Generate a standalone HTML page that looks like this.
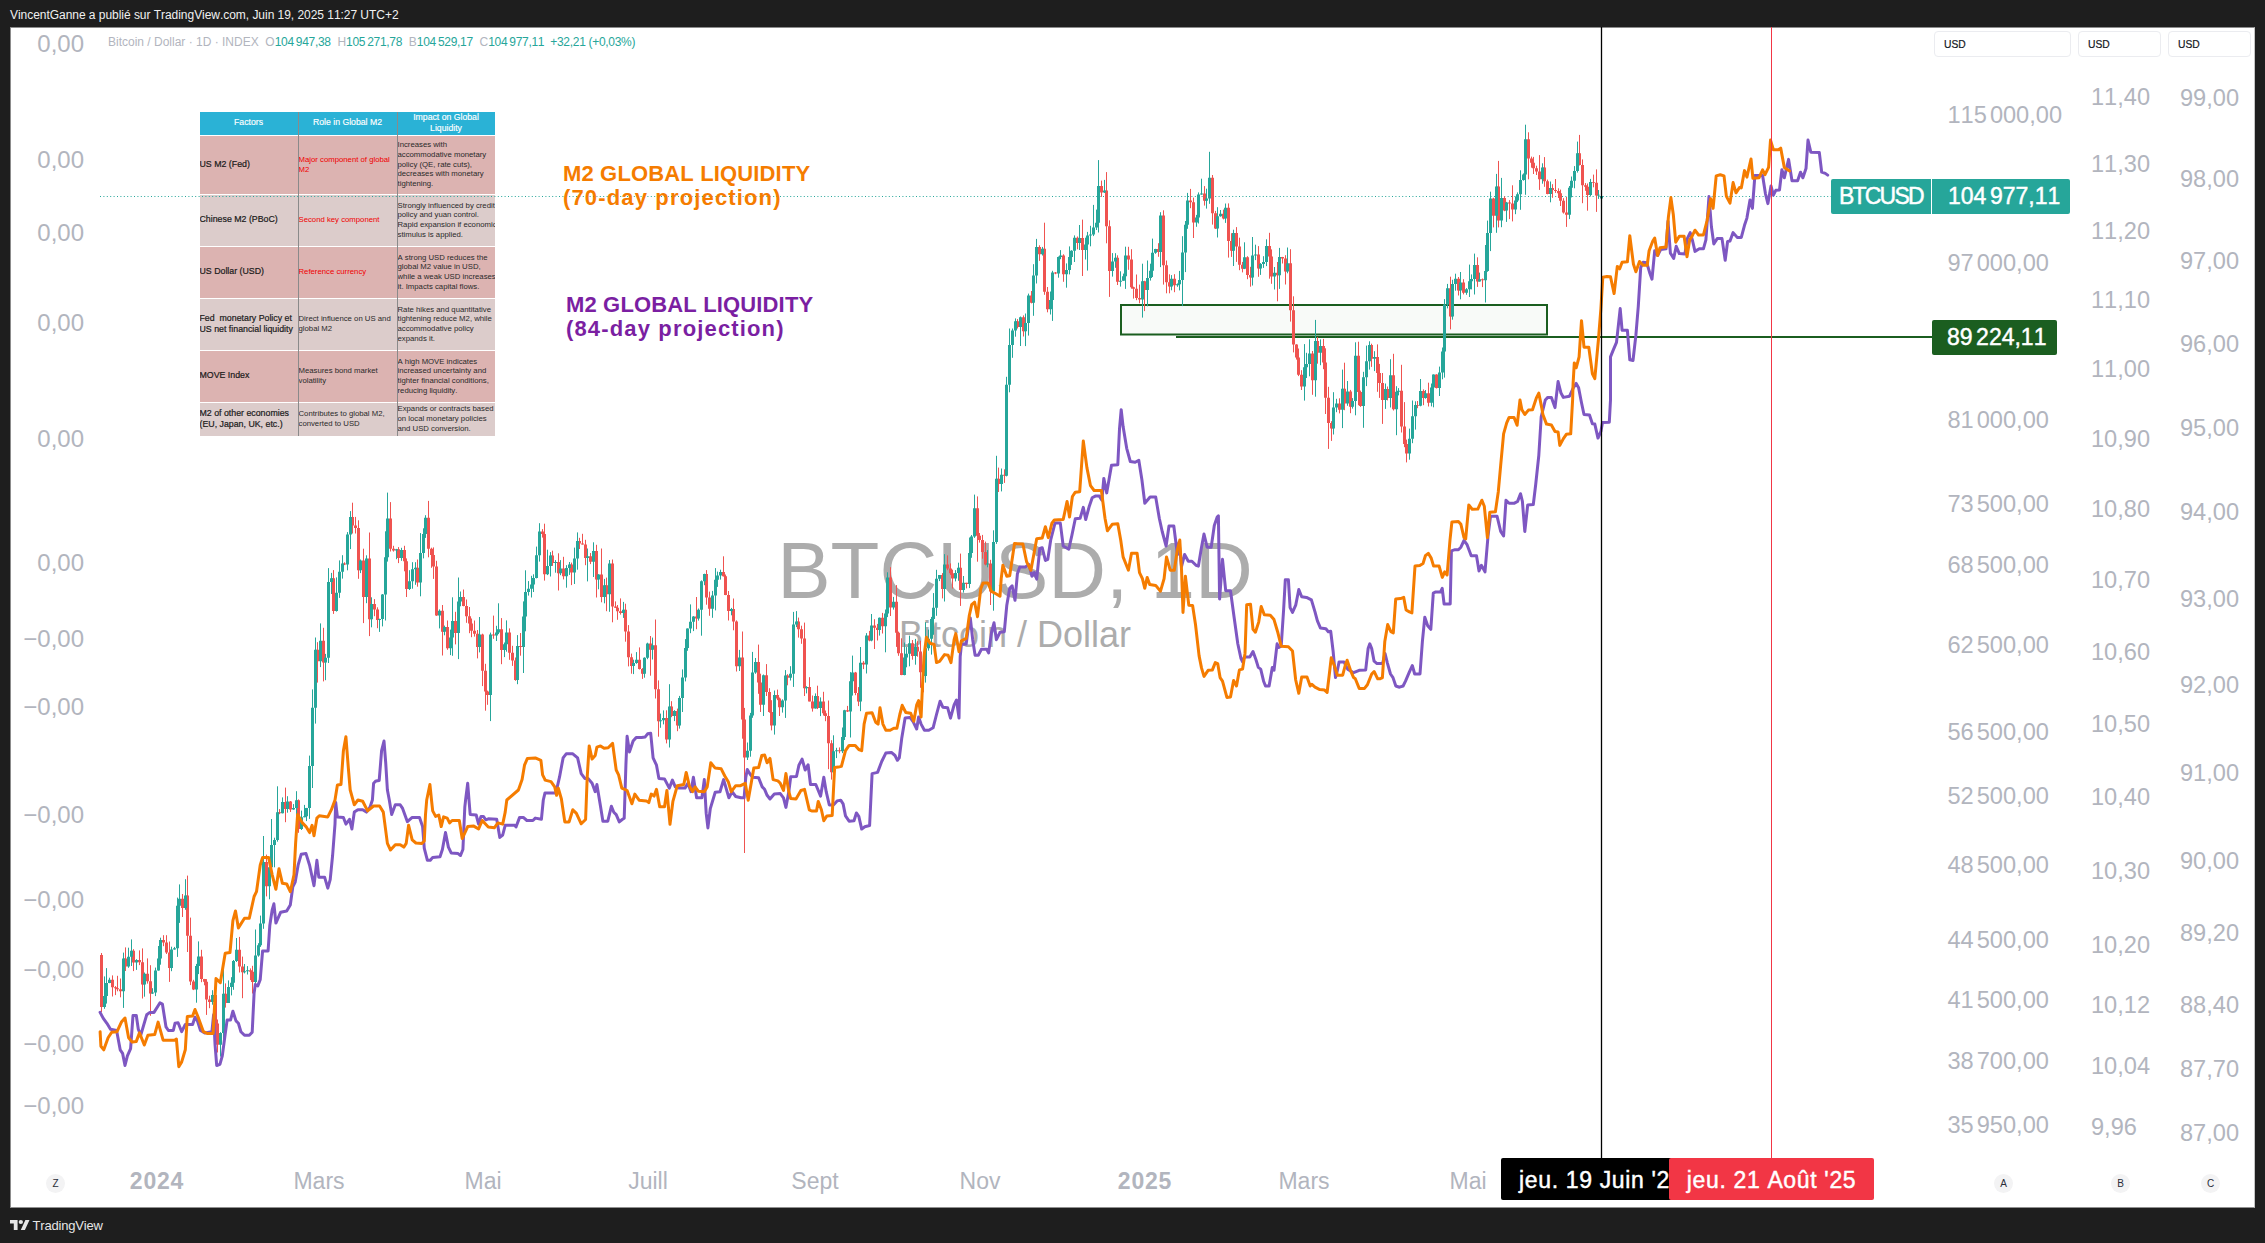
<!DOCTYPE html>
<html lang="fr"><head><meta charset="utf-8"><title>BTCUSD</title>
<style>
html,body{margin:0;padding:0;background:#1e1e1e;}
body{font-kerning:none;width:2265px;height:1243px;position:relative;overflow:hidden;font-family:"Liberation Sans",Arial,sans-serif;}
.abs{position:absolute;white-space:nowrap;}
#hdr{left:10px;top:7px;font-size:12px;line-height:16px;color:#f0f0f0;letter-spacing:-0.04px;}
#panel{left:10px;top:27px;width:2245px;height:1181px;background:#fff;box-sizing:border-box;border-left:1px solid #8c8c8c;border-top:1px solid #8c8c8c;border-right:1px solid #c4c4c4;border-bottom:1px solid #909090;}
#foot{left:32.6px;top:1218px;font-size:13px;line-height:16px;color:#e6e6e6;letter-spacing:-0.2px;}
.ax{font-size:23.6px;line-height:26px;color:#b2b5be;height:26px;margin-top:1px;}
.ax i{font-style:normal;display:inline-block;width:3px;}
.la{left:0;width:84px;text-align:right;margin-top:0.7px;font-size:24px;}
.tm{font-size:23px;line-height:26px;color:#b2b5be;top:1168px;transform:translateX(-50%);}
.tm b{font-weight:700;letter-spacing:0.8px;}
.usd{top:31px;height:24px;border:1px solid #ebecf0;border-radius:4px;box-sizing:content-box;font-size:10.3px;line-height:26.5px;-webkit-text-stroke:0.2px #131722;color:#131722;text-indent:9px;}
.circ{width:19px;height:19px;border-radius:50%;background:#f3f3f4;font-size:10px;line-height:19px;text-align:center;color:#2a2e39;top:1174px;}
#leg{left:108px;top:35px;font-size:12px;line-height:15px;color:#b2b5be;}
#leg span{color:#26a69a;letter-spacing:-0.3px;}
#leg i{font-style:normal;display:inline-block;width:2px;}
#wm1{left:0;width:2030px;top:525px;text-align:center;font-size:80px;line-height:92px;color:#acacac;}
#wm2{left:0;width:2030px;top:613.5px;text-align:center;font-size:36px;line-height:42px;color:#acacac;}
.ttl{font-weight:700;font-size:22px;line-height:24px;white-space:nowrap;}
.lab{color:#fff;-webkit-text-stroke:0.45px #fff;font-size:23px;line-height:34px;height:34.5px;}
.lab i{font-style:normal;display:inline-block;width:3.5px;}
/* table */
#tbl{left:199.5px;top:111.5px;width:295px;height:324px;font-size:7.75px;line-height:9.75px;color:#2a2a2a;}
#tbl div{position:absolute;box-sizing:border-box;overflow:hidden;white-space:nowrap;display:flex;flex-direction:column;justify-content:center;}
#tbl .h{background:#2ab2d6;color:#fff;font-size:8.7px;line-height:11.3px;-webkit-text-stroke:0.15px #fff;text-align:center;font-weight:400;}
#tbl .a{background:#dcb3b1;}
#tbl .b{background:#dccccb;}
#tbl .f{font-size:8.8px;line-height:11.5px;color:#1a1a1a;font-weight:400;-webkit-text-stroke:0.2px #1a1a1a;}
#tbl .r{color:#f00000;}
</style></head><body>
<div class="abs" id="hdr">VincentGanne a publié sur TradingView.com, Juin 19, 2025 11:27 UTC+2</div>
<div class="abs" id="panel"></div>

<div class="abs" id="wm1">BTCUSD, 1D</div>
<div class="abs" id="wm2">Bitcoin / Dollar</div>

<!-- factor table -->
<div class="abs" id="tbl">
<div class="h" style="left:0;top:0;width:98px;height:23px">Factors</div>
<div class="h" style="left:99px;top:0;width:98px;height:23px">Role in Global M2</div>
<div class="h" style="left:198px;top:0;width:97px;height:23px">Impact on Global<br>Liquidity</div>

<div class="a f" style="left:0;top:24px;width:98px;height:58px">US M2 (Fed)</div>
<div class="a r" style="left:99px;top:24px;width:98px;height:58px">Major component of global<br>M2</div>
<div class="a" style="left:198px;top:24px;width:97px;height:58px">Increases with<br>accommodative monetary<br>policy (QE, rate cuts),<br>decreases with monetary<br>tightening.</div>

<div class="b f" style="left:0;top:83px;width:98px;height:51px">Chinese M2 (PBoC)</div>
<div class="b r" style="left:99px;top:83px;width:98px;height:51px">Second key component</div>
<div class="b" style="left:198px;top:83px;width:97px;height:51px">Strongly influenced by credit<br>policy and yuan control.<br>Rapid expansion if economic<br>stimulus is applied.</div>

<div class="a f" style="left:0;top:135px;width:98px;height:51px">US Dollar (USD)</div>
<div class="a r" style="left:99px;top:135px;width:98px;height:51px">Reference currency</div>
<div class="a" style="left:198px;top:135px;width:97px;height:51px">A strong USD reduces the<br>global M2 value in USD,<br>while a weak USD increases<br>it. Impacts capital flows.</div>

<div class="b f" style="left:0;top:187px;width:98px;height:51px">Fed&nbsp; monetary Policy et<br>US net financial liquidity</div>
<div class="b" style="left:99px;top:187px;width:98px;height:51px">Direct influence on US and<br>global M2</div>
<div class="b" style="left:198px;top:187px;width:97px;height:51px">Rate hikes and quantitative<br>tightening reduce M2, while<br>accommodative policy<br>expands it.</div>

<div class="a f" style="left:0;top:239px;width:98px;height:51px">MOVE Index</div>
<div class="a" style="left:99px;top:239px;width:98px;height:51px">Measures bond market<br>volatility</div>
<div class="a" style="left:198px;top:239px;width:97px;height:51px">A high MOVE indicates<br>increased uncertainty and<br>tighter financial conditions,<br>reducing liquidity.</div>

<div class="b f" style="left:0;top:291px;width:98px;height:33px">M2 of other economies<br>(EU, Japan, UK, etc.)</div>
<div class="b" style="left:99px;top:291px;width:98px;height:33px">Contributes to global M2,<br>converted to USD</div>
<div class="b" style="left:198px;top:291px;width:97px;height:33px">Expands or contracts based<br>on local monetary policies<br>and USD conversion.</div>
<div style="left:98.4px;top:0;width:1px;height:324px;background:#8a8a8a"></div>
<div style="left:197.4px;top:0;width:1px;height:324px;background:#8a8a8a"></div>
</div>

<svg class="abs" style="left:0;top:0" width="2265" height="1243" viewBox="0 0 2265 1243">
<line x1="100" y1="196.5" x2="1831" y2="196.5" stroke="#26a69a" stroke-width="1" stroke-dasharray="1 2.4"/>
<rect x="1121" y="305" width="426" height="29.5" fill="#1b5e20" fill-opacity="0.03" stroke="#1b5e20" stroke-width="2"/>
<line x1="1176" y1="337" x2="1932" y2="337" stroke="#1b5e20" stroke-width="2"/>
<path d="M101.5 953.0V1012.0M112.5 975.4V996.5M115.5 986.1V995.1M117.5 975.8V991.3M120.5 978.5V997.3M125.5 947.4V971.0M133.5 949.2V971.1M139.5 950.4V965.1M142.5 948.4V998.5M147.5 958.4V983.6M150.5 965.2V1015.8M163.5 935.2V946.2M166.5 935.2V954.0M169.5 941.5V981.9M182.5 894.0V917.0M187.5 875.6V952.0M190.5 917.6V985.1M193.5 979.8V990.1M201.5 949.8V982.2M204.5 978.9V985.3M206.5 979.1V1014.9M209.5 995.7V1008.2M215.5 984.8V1045.1M217.5 1019.5V1052.5M225.5 983.4V1007.6M239.5 936.9V972.5M242.5 956.6V998.2M250.5 968.4V980.1M252.5 965.8V993.5M266.5 854.6V896.4M279.5 809.1V814.2M285.5 787.6V822.2M290.5 801.0V812.0M298.5 799.4V832.8M317.5 642.2V682.6M323.5 627.8V681.4M333.5 570.1V613.9M344.5 562.3V565.1M352.5 502.7V533.5M355.5 516.9V533.5M358.5 520.3V578.8M363.5 548.7V623.1M369.5 532.5V636.1M374.5 599.1V616.2M377.5 607.3V628.2M390.5 502.1V551.5M393.5 545.8V551.6M398.5 547.1V563.1M404.5 545.8V571.3M406.5 558.4V597.0M417.5 559.5V586.7M428.5 500.9V557.3M431.5 547.7V567.8M433.5 547.4V578.9M436.5 560.8V615.9M442.5 605.0V655.5M447.5 620.5V649.8M455.5 611.8V644.4M463.5 589.5V606.3M466.5 599.5V622.8M469.5 607.0V633.2M471.5 618.5V637.2M474.5 620.5V636.6M477.5 630.0V658.4M482.5 633.7V686.1M485.5 663.8V710.7M487.5 690.6V704.8M493.5 615.6V638.8M501.5 618.1V664.2M509.5 628.4V659.8M512.5 645.8V665.9M515.5 657.5V680.8M520.5 633.0V655.7M542.5 529.1V537.6M544.5 523.7V580.6M552.5 550.7V565.9M558.5 553.3V590.5M563.5 556.8V579.4M571.5 562.6V585.1M579.5 537.8V549.0M582.5 533.8V544.6M585.5 539.8V565.2M590.5 553.0V564.1M596.5 544.8V597.5M601.5 548.5V602.3M606.5 577.6V611.2M612.5 559.5V622.3M615.5 601.4V607.8M617.5 605.0V619.8M620.5 598.4V614.6M625.5 603.7V641.7M628.5 625.1V666.4M631.5 653.6V673.7M639.5 647.4V669.5M642.5 668.1V678.9M650.5 636.0V675.7M655.5 619.5V698.5M658.5 680.4V736.7M666.5 710.3V743.4M671.5 701.2V717.2M677.5 708.6V731.2M696.5 597.0V629.2M706.5 570.1V604.7M709.5 591.6V615.8M723.5 556.3V576.5M725.5 574.5V595.2M728.5 591.0V620.5M733.5 598.5V630.3M736.5 620.4V671.5M742.5 631.5V738.7M744.5 707.9V853.0M758.5 644.6V693.8M760.5 673.7V712.0M766.5 664.1V696.0M769.5 688.2V712.7M771.5 700.2V730.4M777.5 689.6V700.2M779.5 697.5V716.0M787.5 674.2V685.3M798.5 617.6V637.6M801.5 625.7V643.8M804.5 622.6V696.0M809.5 677.2V701.4M812.5 695.5V711.6M817.5 685.7V709.1M823.5 691.8V715.5M825.5 710.5V721.2M828.5 700.5V769.2M831.5 740.2V779.6M839.5 747.4V753.3M847.5 705.9V712.0M855.5 671.9V695.2M858.5 687.1V706.1M863.5 661.1V669.1M869.5 630.9V641.3M874.5 619.2V649.0M877.5 623.9V640.5M882.5 612.9V633.5M890.5 567.2V616.0M896.5 585.1V646.9M898.5 631.6V655.8M901.5 638.3V675.2M912.5 640.0V659.7M917.5 641.2V656.7M920.5 640.7V687.8M923.5 665.9V692.3M942.5 573.1V598.4M947.5 555.4V570.2M950.5 563.4V574.9M952.5 569.7V588.5M960.5 553.6V605.9M966.5 582.8V588.4M977.5 496.4V561.7M979.5 533.0V542.6M982.5 534.9V558.7M985.5 541.6V565.3M990.5 559.8V605.0M998.5 467.6V492.0M1004.5 469.3V482.9M1017.5 319.1V328.5M1023.5 315.4V336.5M1031.5 291.0V303.4M1039.5 245.3V260.9M1044.5 222.7V294.8M1047.5 287.0V312.3M1055.5 272.0V274.2M1063.5 254.3V281.8M1077.5 236.5V249.3M1082.5 219.6V276.0M1101.5 180.6V196.9M1106.5 172.1V243.3M1109.5 220.3V296.9M1117.5 255.3V285.0M1128.5 246.8V269.8M1131.5 249.2V288.7M1133.5 286.7V298.6M1136.5 274.5V300.2M1139.5 284.6V303.3M1144.5 280.8V311.1M1158.5 243.2V256.8M1163.5 210.3V284.6M1166.5 260.5V293.3M1169.5 274.3V293.3M1174.5 274.2V292.2M1190.5 188.9V208.2M1193.5 197.6V238.0M1204.5 186.1V205.6M1212.5 175.0V224.6M1215.5 210.9V229.0M1223.5 209.6V219.4M1228.5 203.4V257.6M1231.5 233.2V256.9M1236.5 227.1V261.9M1239.5 237.7V270.2M1242.5 261.9V272.4M1247.5 256.2V279.2M1250.5 266.8V286.7M1258.5 246.1V276.8M1269.5 232.8V278.7M1271.5 249.4V283.8M1277.5 262.0V301.3M1282.5 256.9V263.5M1285.5 255.2V284.5M1290.5 249.2V321.6M1293.5 296.3V352.4M1296.5 344.2V359.6M1298.5 348.5V376.1M1301.5 370.2V390.0M1312.5 351.0V394.8M1317.5 337.1V363.7M1323.5 338.9V369.2M1325.5 348.3V414.0M1328.5 386.8V448.9M1331.5 421.2V440.9M1339.5 398.3V413.4M1344.5 362.7V410.2M1350.5 389.9V413.2M1358.5 341.7V405.2M1360.5 390.6V406.9M1371.5 343.7V366.9M1377.5 344.4V391.8M1379.5 363.9V397.9M1382.5 373.0V423.9M1387.5 386.5V400.4M1393.5 353.8V410.5M1401.5 364.8V432.5M1404.5 402.1V447.2M1406.5 439.6V462.4M1417.5 401.0V408.2M1423.5 389.4V405.2M1428.5 382.7V406.5M1436.5 374.2V388.5M1450.5 276.7V329.4M1458.5 277.0V295.5M1463.5 279.2V294.4M1477.5 257.3V286.9M1482.5 278.5V287.1M1493.5 197.8V227.4M1498.5 160.9V227.4M1504.5 196.3V211.2M1509.5 200.1V219.1M1512.5 185.3V221.4M1528.5 132.3V179.3M1531.5 156.6V167.7M1533.5 156.9V174.0M1536.5 165.7V175.0M1539.5 155.1V189.9M1544.5 157.1V186.8M1547.5 179.6V194.3M1552.5 184.2V197.8M1555.5 179.0V192.9M1558.5 188.3V198.0M1560.5 189.6V206.0M1563.5 198.2V213.6M1566.5 197.0V226.9M1579.5 134.9V165.5M1582.5 159.4V203.2M1585.5 183.1V190.8M1587.5 183.5V210.7M1593.5 174.6V187.3M1596.5 169.4V211.9" fill="none" stroke="#ef5350" stroke-width="1"/>
<path d="M104.5 976.4V1008.8M106.5 968.1V1003.6M109.5 977.7V983.2M123.5 952.6V1007.9M128.5 947.7V967.8M131.5 939.4V966.0M136.5 959.2V969.9M144.5 972.5V996.7M152.5 988.2V993.9M155.5 967.6V996.1M158.5 946.0V970.7M160.5 937.7V964.7M171.5 946.7V971.2M174.5 946.9V949.6M177.5 897.6V956.9M179.5 884.4V922.9M185.5 879.2V909.8M196.5 963.9V1002.7M198.5 941.4V974.1M212.5 990.2V1004.7M220.5 1032.2V1056.6M223.5 967.7V1043.4M228.5 980.4V1003.0M231.5 977.2V995.4M233.5 960.0V989.8M236.5 938.0V962.0M244.5 964.0V973.4M247.5 966.1V974.5M255.5 929.5V990.9M258.5 943.2V956.7M260.5 915.6V946.9M263.5 836.0V928.8M269.5 862.8V899.3M271.5 819.0V869.8M274.5 837.7V867.3M277.5 786.3V841.7M282.5 797.4V813.4M287.5 796.2V812.7M293.5 804.1V809.8M296.5 791.2V817.0M301.5 810.6V830.0M304.5 804.9V817.3M306.5 807.9V821.1M309.5 755.6V818.9M312.5 689.4V788.0M315.5 637.5V723.6M320.5 623.4V667.1M325.5 653.9V680.2M328.5 568.1V663.0M331.5 572.9V594.0M336.5 577.4V611.6M339.5 560.4V597.9M342.5 555.2V578.6M347.5 532.1V570.3M350.5 511.1V549.1M360.5 559.5V573.1M366.5 555.3V603.2M371.5 597.3V627.3M379.5 618.7V631.9M382.5 594.0V626.4M385.5 531.3V620.5M387.5 492.6V561.6M396.5 548.9V559.2M401.5 547.8V560.8M409.5 570.2V590.0M412.5 562.2V588.7M415.5 562.2V584.8M420.5 533.1V596.3M423.5 528.3V558.4M425.5 515.2V537.9M439.5 609.4V628.4M444.5 625.6V635.3M450.5 629.6V655.1M452.5 597.3V655.8M458.5 577.5V659.1M460.5 591.5V606.3M479.5 617.0V652.4M490.5 632.6V721.1M496.5 625.8V641.0M498.5 603.3V634.1M504.5 642.5V657.1M506.5 620.4V651.7M517.5 635.1V684.2M523.5 601.4V673.0M525.5 570.3V631.3M528.5 581.1V595.6M531.5 575.8V597.5M533.5 574.3V592.0M536.5 546.6V578.4M539.5 523.2V561.6M547.5 549.7V575.1M550.5 552.1V576.5M555.5 560.1V572.7M560.5 560.1V575.2M566.5 565.2V587.7M569.5 562.0V574.9M574.5 547.6V584.0M577.5 532.4V569.7M587.5 548.5V581.4M593.5 542.3V577.0M598.5 574.2V589.3M604.5 578.9V603.3M609.5 560.0V611.8M623.5 601.9V617.9M633.5 659.7V674.1M636.5 652.1V663.8M644.5 657.3V677.7M647.5 642.7V659.2M652.5 637.6V659.5M660.5 713.6V727.8M663.5 710.4V724.4M669.5 684.2V747.5M674.5 710.1V721.1M679.5 695.9V728.6M682.5 669.4V712.0M685.5 639.1V681.4M687.5 628.4V650.8M690.5 604.4V633.2M693.5 616.1V631.1M698.5 608.5V620.6M701.5 580.4V635.7M704.5 573.7V585.2M712.5 590.9V617.8M715.5 568.1V610.4M717.5 571.6V586.9M720.5 569.7V579.6M731.5 607.9V615.3M739.5 649.9V671.0M747.5 742.5V760.0M750.5 712.9V756.7M752.5 651.9V717.8M755.5 658.0V673.8M763.5 674.5V716.0M774.5 690.5V734.6M782.5 699.3V712.6M785.5 670.1V717.9M790.5 666.2V680.5M793.5 611.9V686.9M796.5 611.1V627.1M806.5 686.2V693.4M815.5 693.4V708.6M820.5 697.4V716.1M833.5 735.3V782.2M836.5 747.8V758.1M842.5 727.5V753.1M844.5 709.8V740.0M850.5 672.1V737.5M852.5 655.6V695.6M860.5 647.0V711.2M866.5 633.1V673.5M871.5 614.0V641.3M879.5 617.5V635.6M885.5 609.5V652.3M887.5 572.3V617.1M893.5 596.9V609.6M904.5 642.6V675.3M906.5 647.1V667.3M909.5 635.6V666.3M915.5 638.9V664.7M925.5 622.2V682.6M928.5 629.6V650.7M931.5 616.9V654.6M933.5 593.1V634.8M936.5 569.8V615.8M939.5 575.0V581.1M944.5 554.1V601.5M955.5 570.1V581.4M958.5 562.7V580.8M963.5 576.0V592.6M969.5 537.5V588.1M971.5 535.0V557.8M974.5 494.6V537.9M987.5 550.1V567.3M993.5 530.3V610.7M996.5 455.8V543.9M1001.5 468.5V491.4M1006.5 376.8V476.4M1009.5 328.5V392.3M1012.5 328.5V357.8M1015.5 318.4V336.7M1020.5 316.5V346.0M1025.5 313.5V346.1M1028.5 293.6V335.6M1033.5 264.2V315.8M1036.5 238.9V283.5M1042.5 246.9V255.5M1050.5 291.5V314.5M1052.5 270.8V320.9M1058.5 256.5V277.7M1060.5 250.1V259.2M1066.5 263.4V287.7M1069.5 246.4V274.4M1071.5 250.2V264.9M1074.5 235.4V262.0M1079.5 225.0V250.0M1085.5 237.7V259.5M1087.5 231.9V270.6M1090.5 225.8V246.3M1093.5 204.9V236.1M1096.5 209.6V230.0M1098.5 160.1V232.5M1104.5 179.9V193.0M1112.5 253.1V276.6M1115.5 253.2V267.8M1120.5 271.3V286.6M1123.5 273.6V280.8M1125.5 246.7V288.9M1142.5 263.7V317.6M1147.5 260.5V306.3M1150.5 263.7V280.6M1152.5 238.6V277.0M1155.5 248.8V253.8M1160.5 212.2V267.1M1171.5 275.1V290.3M1177.5 283.4V286.8M1179.5 270.9V290.4M1182.5 236.2V306.1M1185.5 221.0V272.1M1187.5 192.9V228.8M1196.5 214.9V226.8M1198.5 192.4V223.5M1201.5 178.7V194.8M1206.5 188.7V208.6M1209.5 151.8V203.8M1217.5 207.2V237.5M1220.5 210.0V216.7M1225.5 203.5V222.9M1233.5 229.7V266.0M1244.5 242.3V269.1M1252.5 237.0V285.5M1255.5 244.7V260.1M1260.5 263.1V274.9M1263.5 256.2V267.9M1266.5 239.3V266.1M1274.5 267.0V289.5M1279.5 247.9V288.9M1287.5 247.5V273.3M1304.5 344.1V400.6M1306.5 352.8V378.0M1309.5 339.3V376.3M1315.5 319.9V396.7M1320.5 339.4V365.2M1333.5 392.2V434.5M1336.5 398.8V412.2M1342.5 369.6V428.1M1347.5 381.0V405.8M1352.5 398.1V408.6M1355.5 342.3V415.3M1363.5 371.8V427.8M1366.5 345.6V386.1M1369.5 341.3V369.6M1374.5 351.2V371.1M1385.5 383.5V408.9M1390.5 359.2V407.5M1396.5 386.2V435.2M1398.5 388.1V395.4M1409.5 428.6V459.7M1412.5 400.5V443.2M1415.5 401.3V429.6M1420.5 379.0V406.3M1425.5 390.0V398.7M1431.5 383.5V406.4M1433.5 374.4V407.3M1439.5 366.6V396.0M1442.5 347.5V379.3M1444.5 299.1V377.6M1447.5 283.9V308.4M1452.5 279.8V319.7M1455.5 273.7V290.7M1460.5 272.0V299.3M1466.5 288.1V294.8M1469.5 264.6V297.0M1471.5 274.4V289.4M1474.5 253.6V294.5M1479.5 272.6V281.7M1485.5 245.0V302.5M1487.5 220.6V271.8M1490.5 191.7V251.1M1496.5 173.9V232.8M1501.5 177.9V227.2M1506.5 201.9V221.9M1515.5 196.6V214.2M1517.5 192.4V202.1M1520.5 170.3V209.8M1523.5 173.4V180.7M1525.5 124.7V194.8M1542.5 163.3V183.7M1550.5 181.5V202.3M1569.5 186.0V219.1M1571.5 176.5V197.4M1574.5 166.1V188.3M1577.5 141.6V172.6M1590.5 178.9V196.4M1598.5 190.0V198.9M1601.5 191.0V203.0" fill="none" stroke="#26a69a" stroke-width="1"/>
<path d="M100 955.0h3V1007.0h-3zM111 979.7h3V987.3h-3zM114 987.3h3V988.3h-3zM116 988.3h3V989.3h-3zM119 989.3h3V991.2h-3zM124 958.6h3V966.5h-3zM132 950.8h3V962.4h-3zM138 960.0h3V962.2h-3zM141 962.2h3V984.6h-3zM146 973.8h3V981.2h-3zM149 981.2h3V993.4h-3zM162 939.9h3V942.5h-3zM165 942.5h3V952.6h-3zM168 952.6h3V968.0h-3zM181 898.7h3V908.1h-3zM186 895.5h3V935.8h-3zM189 935.8h3V981.6h-3zM192 981.6h3V989.6h-3zM200 956.6h3V978.9h-3zM203 978.9h3V981.7h-3zM205 981.7h3V999.6h-3zM208 999.6h3V1002.0h-3zM214 994.9h3V1023.5h-3zM216 1023.5h3V1044.8h-3zM224 993.7h3V1002.9h-3zM238 949.8h3V966.6h-3zM241 966.6h3V972.2h-3zM249 970.2h3V971.7h-3zM251 971.7h3V981.9h-3zM265 862.0h3V886.2h-3zM278 812.3h3V813.3h-3zM284 802.1h3V809.0h-3zM289 801.4h3V809.5h-3zM297 800.3h3V829.0h-3zM316 649.7h3V661.3h-3zM322 640.8h3V662.6h-3zM332 578.2h3V610.9h-3zM343 563.6h3V564.6h-3zM351 517.1h3V525.6h-3zM354 525.6h3V528.1h-3zM357 528.1h3V570.3h-3zM362 560.5h3V597.1h-3zM368 558.5h3V619.3h-3zM373 604.0h3V609.6h-3zM376 609.6h3V619.9h-3zM389 518.6h3V548.7h-3zM392 548.7h3V550.6h-3zM397 549.2h3V558.1h-3zM403 550.0h3V561.2h-3zM405 561.2h3V588.9h-3zM416 567.8h3V582.6h-3zM427 517.7h3V548.8h-3zM430 548.8h3V555.1h-3zM432 555.1h3V566.4h-3zM435 566.4h3V615.5h-3zM441 610.8h3V631.7h-3zM446 627.1h3V648.3h-3zM454 621.1h3V633.1h-3zM462 597.0h3V606.1h-3zM465 606.1h3V616.2h-3zM468 616.2h3V623.5h-3zM470 623.5h3V630.7h-3zM473 630.7h3V633.8h-3zM476 633.8h3V646.9h-3zM481 634.5h3V670.7h-3zM484 670.7h3V691.5h-3zM486 691.5h3V695.1h-3zM492 634.4h3V635.4h-3zM500 629.3h3V650.1h-3zM508 632.6h3V652.8h-3zM511 652.8h3V660.6h-3zM514 660.6h3V680.1h-3zM519 646.1h3V647.1h-3zM541 531.5h3V534.0h-3zM543 534.0h3V574.3h-3zM551 555.5h3V563.1h-3zM557 562.1h3V573.2h-3zM562 568.6h3V576.2h-3zM570 564.6h3V572.5h-3zM578 540.9h3V543.6h-3zM581 543.6h3V544.4h-3zM584 544.4h3V558.0h-3zM589 556.2h3V561.7h-3zM595 551.0h3V579.6h-3zM600 574.5h3V597.0h-3zM605 585.2h3V594.3h-3zM611 563.6h3V606.4h-3zM614 606.4h3V607.7h-3zM616 607.7h3V611.2h-3zM619 611.2h3V612.9h-3zM624 609.7h3V631.4h-3zM627 631.4h3V657.2h-3zM630 657.2h3V666.0h-3zM638 659.7h3V669.1h-3zM641 669.1h3V673.8h-3zM649 643.4h3V649.7h-3zM654 645.3h3V689.2h-3zM657 689.2h3V721.2h-3zM665 718.1h3V739.6h-3zM670 706.5h3V716.0h-3zM676 710.9h3V725.6h-3zM695 616.5h3V618.5h-3zM705 573.9h3V597.5h-3zM708 597.5h3V608.7h-3zM722 572.0h3V576.3h-3zM724 576.3h3V595.0h-3zM727 595.0h3V611.1h-3zM732 608.9h3V621.4h-3zM735 621.4h3V666.2h-3zM741 657.5h3V719.5h-3zM743 719.5h3V757.5h-3zM757 662.1h3V682.5h-3zM759 682.5h3V704.7h-3zM765 675.2h3V692.1h-3zM768 692.1h3V711.9h-3zM770 711.9h3V725.5h-3zM776 694.9h3V698.5h-3zM778 698.5h3V707.2h-3zM786 675.6h3V677.7h-3zM797 621.6h3V629.3h-3zM800 629.3h3V638.5h-3zM803 638.5h3V688.3h-3zM808 687.1h3V701.4h-3zM811 701.4h3V708.4h-3zM816 696.1h3V708.0h-3zM822 701.5h3V713.3h-3zM824 713.3h3V716.1h-3zM827 716.1h3V743.2h-3zM830 743.2h3V772.3h-3zM838 750.2h3V751.2h-3zM846 710.3h3V711.5h-3zM854 672.4h3V693.0h-3zM857 693.0h3V701.6h-3zM862 662.8h3V664.6h-3zM868 635.6h3V640.6h-3zM873 625.5h3V627.8h-3zM876 627.8h3V629.9h-3zM881 617.8h3V626.3h-3zM889 577.5h3V607.6h-3zM895 601.7h3V632.8h-3zM897 632.8h3V653.2h-3zM900 653.2h3V675.0h-3zM911 643.2h3V656.1h-3zM916 646.7h3V651.6h-3zM919 651.6h3V672.3h-3zM922 672.3h3V676.0h-3zM941 575.1h3V589.1h-3zM946 564.6h3V568.4h-3zM949 568.4h3V573.3h-3zM951 573.3h3V578.5h-3zM959 567.7h3V590.1h-3zM965 582.8h3V584.0h-3zM976 508.2h3V535.7h-3zM978 535.7h3V540.0h-3zM981 540.0h3V552.1h-3zM984 552.1h3V564.4h-3zM989 563.4h3V591.4h-3zM997 478.7h3V483.9h-3zM1003 474.8h3V475.8h-3zM1016 321.2h3V327.1h-3zM1022 317.2h3V331.3h-3zM1030 295.5h3V302.8h-3zM1038 246.9h3V254.3h-3zM1043 248.7h3V291.8h-3zM1046 291.8h3V309.2h-3zM1054 272.6h3V273.6h-3zM1062 255.6h3V274.3h-3zM1076 237.8h3V243.0h-3zM1081 238.0h3V250.0h-3zM1100 186.1h3V192.6h-3zM1105 190.5h3V226.3h-3zM1108 226.3h3V270.9h-3zM1116 257.8h3V281.7h-3zM1127 255.6h3V259.4h-3zM1130 259.4h3V287.2h-3zM1132 287.2h3V288.8h-3zM1135 288.8h3V298.1h-3zM1138 298.1h3V299.4h-3zM1143 281.2h3V290.1h-3zM1157 248.9h3V252.0h-3zM1162 215.5h3V265.2h-3zM1165 265.2h3V282.2h-3zM1168 282.2h3V286.4h-3zM1173 278.7h3V285.3h-3zM1189 200.4h3V202.3h-3zM1192 202.3h3V222.4h-3zM1203 193.4h3V200.8h-3zM1211 177.8h3V213.3h-3zM1214 213.3h3V228.4h-3zM1222 213.7h3V218.5h-3zM1227 207.8h3V240.9h-3zM1230 240.9h3V250.7h-3zM1235 233.0h3V246.5h-3zM1238 246.5h3V264.8h-3zM1241 264.8h3V268.8h-3zM1246 257.2h3V275.0h-3zM1249 275.0h3V277.5h-3zM1257 254.6h3V268.6h-3zM1268 246.1h3V256.5h-3zM1270 256.5h3V276.5h-3zM1276 272.7h3V275.3h-3zM1281 257.0h3V258.6h-3zM1284 258.6h3V271.5h-3zM1289 263.3h3V310.3h-3zM1292 310.3h3V344.5h-3zM1295 344.5h3V357.6h-3zM1297 357.6h3V374.7h-3zM1300 374.7h3V386.4h-3zM1311 353.6h3V380.3h-3zM1316 341.0h3V352.7h-3zM1322 346.1h3V362.6h-3zM1324 362.6h3V397.7h-3zM1327 397.7h3V422.9h-3zM1330 422.9h3V428.4h-3zM1338 403.5h3V409.8h-3zM1343 388.7h3V403.5h-3zM1349 391.4h3V406.7h-3zM1357 355.8h3V391.9h-3zM1359 391.9h3V405.9h-3zM1370 344.9h3V358.7h-3zM1376 356.9h3V373.1h-3zM1378 373.1h3V383.1h-3zM1381 383.1h3V399.9h-3zM1386 389.1h3V397.9h-3zM1392 375.2h3V409.2h-3zM1400 390.8h3V426.5h-3zM1403 426.5h3V443.9h-3zM1405 443.9h3V453.6h-3zM1416 404.9h3V405.8h-3zM1422 391.1h3V398.0h-3zM1427 393.2h3V402.7h-3zM1435 374.5h3V388.1h-3zM1449 288.3h3V316.4h-3zM1457 278.8h3V290.5h-3zM1462 282.4h3V292.8h-3zM1476 264.9h3V281.4h-3zM1481 279.2h3V280.3h-3zM1492 198.4h3V215.7h-3zM1497 186.6h3V220.5h-3zM1503 198.1h3V210.4h-3zM1508 202.5h3V203.5h-3zM1511 203.5h3V209.6h-3zM1527 139.2h3V158.5h-3zM1530 158.5h3V162.7h-3zM1532 162.7h3V168.2h-3zM1535 168.2h3V171.6h-3zM1538 171.6h3V179.3h-3zM1543 167.6h3V181.2h-3zM1546 181.2h3V194.1h-3zM1551 188.0h3V189.9h-3zM1554 189.9h3V190.9h-3zM1557 190.9h3V193.3h-3zM1559 193.3h3V200.8h-3zM1562 200.8h3V212.5h-3zM1565 212.5h3V214.8h-3zM1578 153.3h3V165.0h-3zM1581 165.0h3V185.2h-3zM1584 185.2h3V186.7h-3zM1586 186.7h3V195.1h-3zM1592 181.9h3V182.7h-3zM1595 182.7h3V195.5h-3z" fill="#ef5350"/>
<path d="M103 996.0h3V1007.0h-3zM105 982.9h3V996.0h-3zM108 979.7h3V982.9h-3zM122 958.6h3V991.2h-3zM127 956.7h3V966.5h-3zM130 950.8h3V956.7h-3zM135 960.0h3V962.4h-3zM143 973.8h3V984.6h-3zM151 992.4h3V993.4h-3zM154 970.5h3V992.4h-3zM157 958.4h3V970.5h-3zM159 939.9h3V958.4h-3zM170 949.5h3V968.0h-3zM173 948.3h3V949.5h-3zM176 905.8h3V948.3h-3zM178 898.7h3V905.8h-3zM184 895.5h3V908.1h-3zM195 966.1h3V989.6h-3zM197 956.6h3V966.1h-3zM211 994.9h3V1002.0h-3zM219 1033.0h3V1044.8h-3zM222 993.7h3V1033.0h-3zM227 986.9h3V1002.9h-3zM230 982.7h3V986.9h-3zM232 960.9h3V982.7h-3zM235 949.8h3V960.9h-3zM243 971.2h3V972.2h-3zM246 970.2h3V971.2h-3zM254 955.5h3V981.9h-3zM257 945.3h3V955.5h-3zM259 923.6h3V945.3h-3zM262 862.0h3V923.6h-3zM268 867.2h3V886.2h-3zM270 845.0h3V867.2h-3zM273 840.1h3V845.0h-3zM276 812.3h3V840.1h-3zM281 802.1h3V813.3h-3zM286 801.4h3V809.0h-3zM292 808.1h3V809.5h-3zM295 800.3h3V808.1h-3zM300 817.2h3V829.0h-3zM303 816.2h3V817.2h-3zM305 808.1h3V816.2h-3zM308 766.0h3V808.1h-3zM311 707.7h3V766.0h-3zM314 649.7h3V707.7h-3zM319 640.8h3V661.3h-3zM324 657.8h3V662.6h-3zM327 582.0h3V657.8h-3zM330 578.2h3V582.0h-3zM335 592.8h3V610.9h-3zM338 571.8h3V592.8h-3zM341 563.6h3V571.8h-3zM346 534.5h3V564.6h-3zM349 517.1h3V534.5h-3zM359 560.5h3V570.3h-3zM365 558.5h3V597.1h-3zM370 604.0h3V619.3h-3zM378 618.9h3V619.9h-3zM381 594.5h3V618.9h-3zM384 557.3h3V594.5h-3zM386 518.6h3V557.3h-3zM395 549.2h3V550.6h-3zM400 550.0h3V558.1h-3zM408 581.3h3V588.9h-3zM411 569.3h3V581.3h-3zM414 567.8h3V569.3h-3zM419 553.0h3V582.6h-3zM422 533.9h3V553.0h-3zM424 517.7h3V533.9h-3zM438 610.8h3V615.5h-3zM443 627.1h3V631.7h-3zM449 637.4h3V648.3h-3zM451 621.1h3V637.4h-3zM457 601.4h3V633.1h-3zM459 597.0h3V601.4h-3zM478 634.5h3V646.9h-3zM489 634.4h3V695.1h-3zM495 632.6h3V635.4h-3zM497 629.3h3V632.6h-3zM503 644.3h3V650.1h-3zM505 632.6h3V644.3h-3zM516 646.1h3V680.1h-3zM522 616.5h3V647.1h-3zM524 591.9h3V616.5h-3zM527 588.7h3V591.9h-3zM530 584.5h3V588.7h-3zM532 578.0h3V584.5h-3zM535 555.3h3V578.0h-3zM538 531.5h3V555.3h-3zM546 566.0h3V574.3h-3zM549 555.5h3V566.0h-3zM554 562.1h3V563.1h-3zM559 568.6h3V573.2h-3zM565 568.1h3V576.2h-3zM568 564.6h3V568.1h-3zM573 558.5h3V572.5h-3zM576 540.9h3V558.5h-3zM586 556.2h3V558.0h-3zM592 551.0h3V561.7h-3zM597 574.5h3V579.6h-3zM603 585.2h3V597.0h-3zM608 563.6h3V594.3h-3zM622 609.7h3V612.9h-3zM632 662.9h3V666.0h-3zM635 659.7h3V662.9h-3zM643 657.8h3V673.8h-3zM646 643.4h3V657.8h-3zM651 645.3h3V649.7h-3zM659 720.3h3V721.2h-3zM662 718.1h3V720.3h-3zM668 706.5h3V739.6h-3zM673 710.9h3V716.0h-3zM678 698.1h3V725.6h-3zM681 677.4h3V698.1h-3zM684 648.0h3V677.4h-3zM686 628.5h3V648.0h-3zM689 621.8h3V628.5h-3zM692 616.5h3V621.8h-3zM697 609.7h3V618.5h-3zM700 581.3h3V609.7h-3zM703 573.9h3V581.3h-3zM711 595.4h3V608.7h-3zM714 579.8h3V595.4h-3zM716 575.6h3V579.8h-3zM719 572.0h3V575.6h-3zM730 608.9h3V611.1h-3zM738 657.5h3V666.2h-3zM746 750.8h3V757.5h-3zM749 715.5h3V750.8h-3zM751 672.6h3V715.5h-3zM754 662.1h3V672.6h-3zM762 675.2h3V704.7h-3zM773 694.9h3V725.5h-3zM781 700.6h3V707.2h-3zM784 675.6h3V700.6h-3zM789 673.7h3V677.7h-3zM792 624.4h3V673.7h-3zM795 621.6h3V624.4h-3zM805 687.1h3V688.3h-3zM814 696.1h3V708.4h-3zM819 701.5h3V708.0h-3zM832 751.2h3V772.3h-3zM835 750.2h3V751.2h-3zM841 737.0h3V751.2h-3zM843 710.3h3V737.0h-3zM849 681.2h3V711.5h-3zM851 672.4h3V681.2h-3zM859 662.8h3V701.6h-3zM865 635.6h3V664.6h-3zM870 625.5h3V640.6h-3zM878 617.8h3V629.9h-3zM884 613.6h3V626.3h-3zM886 577.5h3V613.6h-3zM892 601.7h3V607.6h-3zM903 657.6h3V675.0h-3zM905 653.8h3V657.6h-3zM908 643.2h3V653.8h-3zM914 646.7h3V656.1h-3zM924 648.2h3V676.0h-3zM927 638.7h3V648.2h-3zM930 618.9h3V638.7h-3zM932 607.7h3V618.9h-3zM935 578.8h3V607.7h-3zM938 575.1h3V578.8h-3zM943 564.6h3V589.1h-3zM954 573.0h3V578.5h-3zM957 567.7h3V573.0h-3zM962 582.8h3V590.1h-3zM968 552.9h3V584.0h-3zM970 536.6h3V552.9h-3zM973 508.2h3V536.6h-3zM986 563.4h3V564.4h-3zM992 541.9h3V591.4h-3zM995 478.7h3V541.9h-3zM1000 474.8h3V483.9h-3zM1005 384.7h3V475.8h-3zM1008 344.9h3V384.7h-3zM1011 330.5h3V344.9h-3zM1014 321.2h3V330.5h-3zM1019 317.2h3V327.1h-3zM1024 323.0h3V331.3h-3zM1027 295.5h3V323.0h-3zM1032 275.6h3V302.8h-3zM1035 246.9h3V275.6h-3zM1041 248.7h3V254.3h-3zM1049 300.1h3V309.2h-3zM1051 272.6h3V300.1h-3zM1057 257.0h3V273.6h-3zM1059 255.6h3V257.0h-3zM1065 270.1h3V274.3h-3zM1068 257.1h3V270.1h-3zM1070 250.8h3V257.1h-3zM1073 237.8h3V250.8h-3zM1078 238.0h3V243.0h-3zM1084 244.6h3V250.0h-3zM1086 235.4h3V244.6h-3zM1089 234.4h3V235.4h-3zM1092 227.5h3V234.4h-3zM1095 222.8h3V227.5h-3zM1097 186.1h3V222.8h-3zM1103 190.5h3V192.6h-3zM1111 261.6h3V270.9h-3zM1114 257.8h3V261.6h-3zM1119 280.7h3V281.7h-3zM1122 276.2h3V280.7h-3zM1124 255.6h3V276.2h-3zM1141 281.2h3V299.4h-3zM1146 278.0h3V290.1h-3zM1149 270.8h3V278.0h-3zM1151 252.8h3V270.8h-3zM1154 248.9h3V252.8h-3zM1159 215.5h3V252.0h-3zM1170 278.7h3V286.4h-3zM1176 284.2h3V285.3h-3zM1178 280.1h3V284.2h-3zM1181 252.4h3V280.1h-3zM1184 224.7h3V252.4h-3zM1186 200.4h3V224.7h-3zM1195 217.5h3V222.4h-3zM1197 194.4h3V217.5h-3zM1200 193.4h3V194.4h-3zM1205 198.5h3V200.8h-3zM1208 177.8h3V198.5h-3zM1216 216.3h3V228.4h-3zM1219 213.7h3V216.3h-3zM1224 207.8h3V218.5h-3zM1232 233.0h3V250.7h-3zM1243 257.2h3V268.8h-3zM1251 255.6h3V277.5h-3zM1254 254.6h3V255.6h-3zM1259 264.0h3V268.6h-3zM1262 261.9h3V264.0h-3zM1265 246.1h3V261.9h-3zM1273 272.7h3V276.5h-3zM1278 257.0h3V275.3h-3zM1286 263.3h3V271.5h-3zM1303 367.3h3V386.4h-3zM1305 364.0h3V367.3h-3zM1308 353.6h3V364.0h-3zM1314 341.0h3V380.3h-3zM1319 346.1h3V352.7h-3zM1332 407.5h3V428.4h-3zM1335 403.5h3V407.5h-3zM1341 388.7h3V409.8h-3zM1346 391.4h3V403.5h-3zM1351 401.1h3V406.7h-3zM1354 355.8h3V401.1h-3zM1362 377.2h3V405.9h-3zM1365 361.3h3V377.2h-3zM1368 344.9h3V361.3h-3zM1373 356.9h3V358.7h-3zM1384 389.1h3V399.9h-3zM1389 375.2h3V397.9h-3zM1395 391.7h3V409.2h-3zM1397 390.8h3V391.7h-3zM1408 438.8h3V453.6h-3zM1411 416.3h3V438.8h-3zM1414 404.9h3V416.3h-3zM1419 391.1h3V405.8h-3zM1424 393.2h3V398.0h-3zM1430 387.6h3V402.7h-3zM1432 374.5h3V387.6h-3zM1438 372.5h3V388.1h-3zM1441 351.6h3V372.5h-3zM1443 304.6h3V351.6h-3zM1446 288.3h3V304.6h-3zM1451 283.9h3V316.4h-3zM1454 278.8h3V283.9h-3zM1459 282.4h3V290.5h-3zM1465 289.3h3V292.8h-3zM1468 281.2h3V289.3h-3zM1470 279.1h3V281.2h-3zM1473 264.9h3V279.1h-3zM1478 279.2h3V281.4h-3zM1484 271.0h3V280.3h-3zM1486 233.1h3V271.0h-3zM1489 198.4h3V233.1h-3zM1495 186.6h3V215.7h-3zM1500 198.1h3V220.5h-3zM1505 202.5h3V210.4h-3zM1514 200.4h3V209.6h-3zM1516 194.3h3V200.4h-3zM1519 179.9h3V194.3h-3zM1522 174.5h3V179.9h-3zM1524 139.2h3V174.5h-3zM1541 167.6h3V179.3h-3zM1549 188.0h3V194.1h-3zM1568 187.7h3V214.8h-3zM1570 180.7h3V187.7h-3zM1573 170.9h3V180.7h-3zM1576 153.3h3V170.9h-3zM1589 181.9h3V195.1h-3zM1597 194.8h3V195.5h-3zM1600 196.0h3V198.5h-3z" fill="#26a69a"/>
<path d="M100.1 1012.4 L103.3 1018.4 L106.9 1023.3 L110.5 1029.3 L116.6 1030.5 L120.2 1049.8 L122.6 1053.4 L125.0 1065.5 L127.4 1055.9 L130.6 1048.6 L133.0 1015.5 L136.3 1015.5 L138.3 1029.3 L140.7 1035.3 L146.7 1014.8 L149.9 1012.4 L154.0 1012.4 L160.0 1002.8 L162.4 1004.0 L166.0 1026.9 L168.4 1030.5 L173.3 1030.5 L175.0 1023.3 L178.1 1022.8 L181.7 1031.7 L185.3 1024.5 L192.6 1024.5 L195.0 1017.2 L197.4 1020.9 L200.5 1030.5 L204.7 1032.9 L211.9 1031.7 L213.6 1014.8 L215.0 1043.8 L216.7 1065.5 L219.9 1064.3 L222.3 1055.9 L225.2 1034.1 L227.1 1020.1 L230.5 1020.1 L232.9 1011.2 L236.0 1020.9 L238.4 1023.3 L240.9 1031.7 L244.5 1035.3 L249.3 1035.3 L252.2 1032.2 L254.1 993.1 L255.3 984.6 L257.8 985.9 L260.2 979.8 L262.6 950.9 L268.1 950.9 L269.8 925.5 L272.2 909.8 L273.9 903.8 L275.9 923.1 L280.7 912.2 L286.7 911.0 L290.3 905.0 L292.8 886.9 L295.2 882.1 L298.1 865.2 L301.2 854.3 L306.0 853.6 L309.6 865.2 L314.0 885.7 L316.9 860.3 L318.8 877.2 L324.6 877.2 L327.8 888.1 L330.2 879.7 L332.6 855.5 L335.0 824.1 L335.7 802.4 L337.4 816.9 L343.4 817.4 L345.9 824.1 L349.5 819.3 L351.9 829.0 L354.3 812.1 L357.9 809.7 L362.7 809.7 L366.4 812.1 L370.0 807.2 L372.4 800.0 L373.6 783.3 L376.0 780.9 L379.2 780.4 L381.6 750.7 L384.0 741.0 L385.7 762.7 L387.4 790.0 L389.3 800.0 L391.7 814.5 L395.3 804.8 L400.2 804.8 L402.6 808.4 L407.4 821.7 L412.2 817.4 L419.5 817.4 L422.6 826.6 L424.3 848.3 L427.4 860.3 L430.3 860.3 L432.7 857.4 L440.0 856.7 L442.4 849.5 L445.5 832.6 L448.4 847.1 L451.3 853.1 L458.1 853.6 L460.5 855.5 L462.9 849.5 L464.8 807.2 L465.6 800.0 L467.7 783.3 L469.0 800.0 L470.2 814.5 L476.2 815.0 L478.6 824.1 L481.0 816.4 L483.4 816.4 L485.8 819.8 L488.3 818.8 L496.7 819.3 L499.8 837.4 L502.7 835.0 L505.2 825.3 L514.8 825.3 L516.0 827.0 L519.6 817.4 L523.3 817.4 L526.9 820.5 L532.9 820.5 L535.3 818.1 L541.4 819.3 L543.3 800.0 L545.0 792.9 L555.9 792.9 L559.5 777.2 L563.1 757.9 L566.2 753.8 L572.8 753.8 L577.6 757.9 L581.2 773.6 L584.8 778.4 L588.0 778.4 L592.1 783.3 L595.2 791.7 L596.9 784.5 L600.5 806.2 L602.9 821.2 L607.8 821.2 L611.4 806.2 L613.8 812.2 L616.2 814.6 L619.3 821.9 L622.2 819.5 L624.2 818.3 L625.9 765.2 L627.1 736.2 L629.5 751.9 L633.1 741.0 L636.2 737.4 L641.5 737.4 L645.2 736.9 L647.6 733.8 L650.7 733.3 L653.1 757.9 L656.5 765.2 L658.9 778.4 L664.5 778.9 L669.3 788.1 L672.4 780.1 L675.3 786.9 L679.0 788.1 L685.0 788.1 L687.9 783.3 L691.0 791.7 L693.4 777.2 L696.6 797.8 L701.9 797.8 L704.3 779.6 L706.2 813.4 L707.9 827.9 L710.3 808.6 L715.2 792.2 L720.0 791.7 L723.6 779.6 L728.9 797.8 L732.1 791.7 L735.7 796.5 L741.0 797.8 L744.1 797.8 L745.8 777.2 L747.3 769.5 L750.2 774.3 L752.6 777.2 L758.6 777.7 L762.2 786.9 L764.6 789.3 L767.1 795.3 L770.0 799.0 L774.3 794.1 L780.3 793.6 L783.5 797.8 L785.9 807.4 L788.8 791.7 L790.7 776.8 L796.5 776.5 L798.9 765.2 L802.1 759.1 L805.2 770.0 L808.1 764.7 L810.5 784.5 L815.8 784.5 L820.6 796.1 L823.8 777.2 L826.2 791.7 L829.3 805.0 L833.4 805.0 L837.1 800.9 L840.7 800.2 L843.1 803.8 L845.5 815.9 L849.1 821.2 L854.0 820.7 L856.4 813.0 L858.8 816.3 L861.7 829.1 L864.8 826.7 L869.6 825.5 L872.1 773.6 L877.6 772.4 L881.7 761.5 L885.8 753.1 L891.4 752.4 L895.0 755.5 L897.4 760.3 L899.3 757.9 L901.7 738.6 L905.1 718.1 L910.0 717.4 L913.1 721.7 L916.7 729.0 L918.6 716.9 L921.1 724.1 L924.4 730.2 L928.8 730.2 L933.1 727.8 L936.5 714.5 L940.1 701.2 L942.8 707.2 L947.6 707.7 L950.5 718.1 L954.1 704.8 L956.5 700.0 L959.0 718.1 L960.2 656.5 L961.4 644.5 L966.2 644.0 L968.6 625.2 L970.3 617.9 L972.7 639.7 L975.1 655.3 L978.3 655.3 L981.4 649.3 L986.7 649.3 L988.6 652.9 L991.5 632.4 L994.0 622.8 L996.4 639.7 L1000.0 632.4 L1000.0 632.2 L1004.3 631.7 L1006.8 605.2 L1009.7 588.3 L1012.1 585.9 L1015.0 600.3 L1017.4 573.8 L1019.8 567.0 L1025.3 567.0 L1029.0 564.6 L1031.9 576.2 L1034.3 572.6 L1036.7 579.1 L1039.8 548.4 L1042.2 547.7 L1045.4 560.5 L1047.8 559.3 L1050.7 540.0 L1055.0 523.1 L1060.3 523.1 L1063.2 546.0 L1068.8 549.2 L1071.9 535.2 L1075.3 518.8 L1080.1 518.3 L1083.3 507.4 L1085.7 519.5 L1089.3 506.2 L1092.2 497.8 L1095.3 496.1 L1099.4 496.1 L1101.9 500.2 L1103.8 478.4 L1106.7 492.9 L1111.5 465.2 L1117.8 464.7 L1119.5 429.0 L1121.2 409.7 L1123.1 426.6 L1126.7 448.3 L1130.3 461.5 L1135.2 462.3 L1138.8 460.3 L1141.9 479.7 L1144.8 503.3 L1150.1 497.0 L1155.7 497.0 L1159.3 518.3 L1162.2 531.5 L1166.1 546.0 L1169.0 526.0 L1173.8 526.0 L1177.4 554.5 L1179.1 542.4 L1181.5 566.5 L1184.6 554.5 L1188.3 561.2 L1191.9 561.2 L1196.0 565.3 L1198.4 566.1 L1201.5 547.2 L1204.0 534.0 L1207.1 547.2 L1211.2 547.2 L1214.3 525.5 L1217.2 517.1 L1218.4 515.9 L1219.6 599.1 L1222.5 559.3 L1225.7 590.7 L1230.5 590.7 L1234.1 617.2 L1237.8 643.8 L1240.9 658.3 L1242.6 661.9 L1244.3 657.1 L1249.8 657.1 L1253.0 651.5 L1255.9 659.5 L1258.3 667.4 L1260.7 669.1 L1263.6 681.2 L1265.5 686.0 L1269.1 686.0 L1272.3 667.4 L1274.0 670.3 L1277.1 643.8 L1278.8 647.4 L1281.2 646.2 L1283.6 610.0 L1285.3 579.8 L1288.4 579.8 L1290.1 607.6 L1292.5 612.4 L1295.7 605.2 L1298.8 589.5 L1301.7 596.7 L1306.5 597.4 L1311.4 599.9 L1315.0 611.9 L1317.4 620.9 L1320.5 628.1 L1325.9 628.8 L1328.3 631.7 L1330.7 631.2 L1333.1 651.0 L1335.5 677.6 L1337.4 670.3 L1339.1 661.9 L1344.0 661.9 L1347.6 669.1 L1353.6 672.7 L1359.2 670.3 L1365.7 669.9 L1368.1 648.6 L1369.8 643.8 L1371.7 648.6 L1374.1 661.2 L1377.0 663.6 L1382.6 663.6 L1385.0 653.4 L1387.4 663.1 L1390.5 674.0 L1393.0 677.6 L1395.8 686.0 L1399.5 687.2 L1403.1 686.0 L1405.5 681.2 L1409.1 672.7 L1412.3 665.5 L1414.7 674.0 L1420.0 674.0 L1422.4 641.4 L1424.8 617.2 L1427.7 625.7 L1430.8 629.3 L1433.3 593.1 L1435.7 591.9 L1440.5 591.9 L1442.2 588.3 L1444.1 604.0 L1450.2 604.0 L1451.4 550.9 L1455.0 549.7 L1458.4 549.7 L1460.9 547.2 L1464.0 540.5 L1466.9 544.3 L1471.2 555.7 L1476.5 555.7 L1479.0 570.9 L1481.4 565.3 L1485.0 571.9 L1488.1 535.2 L1490.5 516.3 L1497.1 516.3 L1500.7 531.5 L1503.6 535.9 L1506.0 500.2 L1509.1 503.3 L1514.0 503.3 L1517.6 501.4 L1520.5 493.7 L1522.4 501.4 L1524.8 531.5 L1527.7 505.0 L1533.3 504.5 L1535.7 484.5 L1538.8 455.5 L1541.2 416.9 L1545.3 400.0 L1547.8 397.4 L1551.4 397.4 L1555.0 407.6 L1558.1 381.5 L1561.0 393.1 L1563.4 397.4 L1569.5 396.2 L1573.1 388.3 L1576.2 383.4 L1578.6 387.8 L1581.5 402.7 L1584.0 414.5 L1589.5 415.0 L1592.4 423.7 L1594.8 424.1 L1598.0 438.1 L1600.9 431.4 L1602.5 422.4 L1609.3 422.2 L1610.5 400.0 L1610.5 356.9 L1612.9 350.9 L1616.5 342.4 L1620.2 308.6 L1622.1 330.3 L1627.4 330.3 L1629.8 359.8 L1633.0 360.5 L1635.9 335.2 L1638.3 306.2 L1640.7 267.6 L1643.1 262.3 L1646.7 262.8 L1649.6 272.4 L1652.0 279.2 L1654.7 250.7 L1657.6 255.5 L1660.7 249.5 L1666.0 248.8 L1668.0 221.2 L1670.4 253.1 L1673.7 258.4 L1676.2 246.3 L1679.3 253.6 L1684.9 254.1 L1687.3 238.6 L1690.2 232.6 L1692.6 241.0 L1695.0 251.4 L1699.3 248.8 L1703.4 248.8 L1705.9 239.8 L1709.0 196.4 L1711.4 226.5 L1713.8 243.9 L1717.2 238.6 L1722.0 238.6 L1725.2 260.3 L1727.6 241.5 L1730.0 241.0 L1733.1 232.6 L1737.2 237.4 L1741.3 237.4 L1744.5 225.3 L1746.9 218.1 L1750.0 200.0 L1752.4 208.4 L1754.9 175.4 L1762.6 175.4 L1765.5 194.0 L1767.9 203.6 L1771.0 186.0 L1773.4 195.2 L1775.8 190.3 L1779.5 189.9 L1781.9 169.8 L1784.3 177.8 L1788.6 159.4 L1792.0 180.7 L1797.6 180.7 L1800.5 172.2 L1802.9 177.8 L1806.0 168.6 L1808.0 140.1 L1810.8 152.2 L1819.3 152.4 L1821.7 172.2 L1825.3 173.4 L1827.7 175.1" fill="none" stroke="#7e57c2" stroke-width="3" stroke-linejoin="round" stroke-linecap="round"/>
<path d="M100.1 1031.7 L100.9 1046.2 L103.8 1049.8 L108.1 1037.8 L111.7 1032.2 L117.0 1031.7 L121.4 1022.1 L125.0 1018.0 L128.6 1037.8 L132.2 1042.1 L136.3 1041.4 L139.5 1032.9 L144.3 1045.0 L147.9 1035.3 L154.7 1034.6 L158.1 1022.1 L163.1 1040.2 L174.5 1040.2 L176.4 1039.0 L178.8 1066.7 L181.7 1061.9 L185.3 1049.8 L187.3 1016.5 L192.6 1016.0 L195.0 1009.5 L198.6 1018.4 L203.4 1031.7 L207.1 1033.4 L213.1 1033.4 L216.0 978.6 L220.3 982.7 L225.2 953.3 L230.0 952.5 L232.9 920.7 L235.5 911.0 L238.4 927.9 L244.5 918.3 L249.3 918.3 L254.1 896.5 L256.5 891.7 L260.2 865.2 L262.6 857.4 L268.6 857.4 L272.2 874.8 L275.9 889.3 L279.0 868.8 L282.4 883.3 L286.7 884.0 L290.3 891.7 L294.0 874.8 L295.6 843.4 L297.6 814.5 L302.4 822.9 L306.0 826.6 L309.6 832.6 L312.1 825.3 L314.0 835.7 L316.9 818.1 L319.3 815.7 L327.8 816.9 L331.4 809.7 L335.0 800.0 L337.4 785.0 L341.0 784.5 L343.4 750.7 L345.9 736.7 L348.3 767.6 L350.2 790.0 L354.3 804.8 L357.9 800.0 L362.7 801.2 L367.6 810.9 L373.6 806.0 L379.6 806.0 L383.3 812.1 L387.4 843.4 L390.5 850.0 L395.3 844.7 L400.2 844.7 L403.8 847.1 L406.2 843.4 L408.6 825.3 L412.2 839.8 L415.9 843.0 L421.9 843.4 L424.3 841.0 L425.5 814.5 L426.7 800.0 L429.9 784.5 L431.5 800.0 L432.7 810.9 L435.6 816.4 L438.8 815.0 L441.2 826.6 L443.6 816.9 L447.2 818.1 L449.6 822.9 L452.1 820.5 L459.3 820.5 L462.2 838.6 L467.7 826.6 L473.8 826.1 L478.6 829.0 L482.2 820.5 L488.3 827.0 L494.3 827.8 L497.9 822.9 L502.7 824.1 L505.2 812.1 L506.8 800.0 L518.4 790.0 L522.1 779.6 L524.5 765.2 L527.4 758.4 L535.3 757.9 L540.9 760.3 L542.6 774.8 L545.0 779.6 L545.0 780.1 L551.0 781.6 L554.7 786.9 L556.6 795.3 L558.3 788.1 L561.4 799.0 L564.8 821.9 L569.1 821.9 L572.8 809.8 L576.4 813.4 L581.2 823.8 L585.6 819.5 L587.2 777.2 L589.2 745.9 L592.1 759.1 L595.2 755.5 L596.9 747.1 L600.5 745.9 L604.1 748.3 L608.2 747.8 L612.6 743.4 L616.2 770.0 L618.6 774.8 L621.8 788.1 L627.1 790.5 L631.9 803.8 L634.8 794.1 L639.1 800.2 L646.4 800.9 L648.8 802.6 L651.2 794.1 L654.1 796.1 L656.5 789.3 L659.7 806.7 L664.5 806.7 L666.9 790.5 L670.0 824.3 L672.9 801.4 L677.3 785.7 L683.8 784.5 L686.2 772.4 L689.3 785.7 L692.7 791.7 L695.1 786.9 L698.3 791.2 L704.3 791.7 L707.2 786.9 L710.8 762.8 L715.2 768.1 L721.2 768.8 L724.8 776.0 L728.4 782.1 L731.3 791.7 L735.7 785.7 L740.5 785.7 L745.3 783.3 L748.2 800.2 L751.4 782.1 L753.8 768.1 L758.6 767.6 L761.8 755.5 L764.6 755.0 L767.1 762.8 L770.0 758.4 L773.1 779.6 L777.9 780.9 L780.3 783.3 L783.5 790.5 L785.9 773.6 L788.8 791.7 L790.7 798.5 L796.0 799.0 L800.9 790.5 L804.5 789.3 L809.3 809.8 L811.7 811.0 L816.5 811.0 L818.2 801.4 L821.4 809.8 L823.8 820.7 L826.9 815.9 L832.2 815.4 L834.6 767.6 L838.3 767.1 L841.4 766.4 L845.5 750.7 L849.1 745.4 L855.2 745.4 L858.8 749.5 L861.7 750.7 L864.1 724.1 L866.5 713.3 L872.1 712.8 L875.7 722.2 L878.1 724.1 L880.0 707.7 L882.9 724.1 L885.8 730.2 L890.2 730.2 L893.8 728.2 L896.9 728.2 L899.8 714.5 L902.2 705.3 L905.8 712.5 L910.7 713.3 L913.8 721.2 L916.7 704.8 L918.6 700.5 L921.1 716.9 L922.7 680.7 L924.0 656.5 L926.4 637.2 L930.0 643.3 L934.1 644.5 L936.5 662.6 L939.6 661.4 L944.5 654.6 L948.1 655.3 L951.0 662.6 L954.1 639.7 L955.8 633.6 L959.0 651.7 L961.4 640.9 L966.2 638.4 L969.3 615.5 L971.7 604.7 L974.6 602.2 L977.5 616.7 L980.7 589.0 L983.1 582.9 L987.9 582.9 L991.5 591.4 L995.9 593.8 L1000.0 596.2 L1001.2 578.6 L1002.9 565.3 L1006.8 576.2 L1009.7 575.7 L1014.5 543.6 L1022.9 544.1 L1026.6 561.7 L1030.9 570.2 L1033.8 554.5 L1036.7 538.8 L1042.2 538.1 L1045.4 526.7 L1048.3 537.6 L1051.9 523.1 L1054.3 520.0 L1063.2 519.5 L1067.1 501.4 L1069.5 517.1 L1072.4 496.5 L1075.3 492.2 L1079.7 491.7 L1083.3 441.0 L1086.9 467.6 L1090.5 485.7 L1094.1 490.5 L1101.4 490.5 L1105.0 518.3 L1107.4 530.8 L1112.2 524.3 L1117.8 523.8 L1120.7 540.0 L1123.1 556.9 L1128.4 570.2 L1131.5 553.3 L1137.1 553.3 L1139.5 572.6 L1142.4 578.6 L1144.8 588.3 L1147.2 577.4 L1149.7 584.6 L1155.7 585.4 L1160.5 591.2 L1164.1 578.6 L1166.5 556.9 L1170.2 570.2 L1174.3 570.2 L1177.4 549.7 L1179.8 540.0 L1181.5 569.0 L1183.0 612.4 L1185.4 576.2 L1188.8 605.2 L1192.6 605.6 L1195.5 624.5 L1199.1 655.9 L1201.5 667.9 L1204.0 676.4 L1208.1 670.3 L1212.4 669.9 L1215.3 662.6 L1217.7 663.6 L1220.1 677.6 L1222.5 681.2 L1226.9 697.4 L1230.5 696.9 L1233.6 680.5 L1236.5 686.0 L1239.4 669.9 L1242.6 669.1 L1245.0 653.4 L1246.7 604.7 L1250.5 604.2 L1253.0 629.3 L1255.4 632.2 L1258.7 622.1 L1261.2 606.4 L1264.3 614.8 L1270.3 615.3 L1274.0 619.6 L1277.6 631.7 L1281.2 646.2 L1288.4 646.7 L1292.5 651.0 L1295.7 680.0 L1298.8 693.3 L1301.7 677.1 L1307.0 677.1 L1310.2 686.0 L1311.9 684.3 L1315.0 687.2 L1319.8 689.6 L1324.6 690.1 L1327.1 692.5 L1329.5 672.7 L1331.2 657.8 L1334.3 665.5 L1337.4 675.2 L1342.7 675.2 L1345.2 665.5 L1347.1 660.2 L1350.5 670.3 L1353.6 677.6 L1355.3 678.8 L1359.2 688.4 L1364.5 688.4 L1367.4 684.8 L1371.7 674.0 L1374.1 671.5 L1377.7 678.8 L1380.2 678.8 L1382.4 677.6 L1384.8 641.4 L1387.7 624.5 L1390.9 631.7 L1393.3 632.9 L1395.7 599.1 L1400.5 598.6 L1403.7 597.4 L1406.1 610.0 L1409.4 611.9 L1411.9 612.9 L1415.0 566.1 L1419.8 565.6 L1423.0 563.6 L1425.4 555.7 L1428.3 553.3 L1431.2 558.1 L1433.6 566.1 L1439.1 566.1 L1442.3 577.4 L1444.7 571.9 L1447.1 575.0 L1450.0 540.0 L1451.9 521.9 L1458.4 521.4 L1460.9 524.3 L1464.0 537.6 L1465.7 538.8 L1468.8 505.0 L1472.2 509.3 L1477.8 509.1 L1481.9 500.2 L1484.3 506.2 L1487.4 537.6 L1489.8 512.2 L1495.4 511.8 L1498.3 491.7 L1500.7 465.2 L1503.6 433.8 L1506.7 422.9 L1509.1 417.4 L1514.0 417.4 L1517.1 425.3 L1520.0 400.0 L1521.9 409.7 L1524.8 414.5 L1528.4 410.1 L1532.5 409.7 L1535.7 400.0 L1536.4 397.9 L1538.8 393.1 L1541.7 407.6 L1542.9 414.5 L1546.5 424.1 L1551.4 424.9 L1555.0 431.4 L1558.1 431.9 L1559.8 445.4 L1563.4 438.6 L1566.3 434.3 L1570.7 433.8 L1572.6 400.0 L1573.1 383.4 L1574.3 362.9 L1576.2 367.8 L1579.1 356.9 L1581.5 320.7 L1584.0 347.2 L1588.8 347.2 L1592.4 373.8 L1594.8 378.6 L1598.4 340.0 L1600.9 308.6 L1602.8 277.2 L1606.9 276.5 L1610.5 276.8 L1614.1 293.6 L1617.3 266.4 L1619.7 268.8 L1622.1 262.3 L1627.4 261.8 L1629.8 235.7 L1633.4 264.0 L1635.9 271.7 L1639.5 261.5 L1643.1 265.2 L1647.2 265.2 L1649.1 250.7 L1652.8 241.0 L1654.7 238.1 L1657.6 255.5 L1660.0 247.8 L1666.0 247.1 L1668.4 216.9 L1670.9 197.6 L1673.3 214.5 L1675.7 242.2 L1679.3 236.2 L1684.1 236.2 L1687.0 256.7 L1689.7 239.8 L1692.1 236.2 L1695.0 230.2 L1698.6 235.0 L1703.4 235.0 L1707.1 220.5 L1710.7 198.8 L1713.1 208.4 L1716.2 175.9 L1720.3 174.7 L1724.0 175.9 L1726.4 196.4 L1730.0 203.1 L1733.1 182.6 L1736.0 192.8 L1739.6 187.4 L1741.3 187.9 L1744.5 170.6 L1746.9 177.1 L1751.0 159.0 L1752.9 178.3 L1759.0 177.8 L1762.6 169.8 L1765.0 174.7 L1768.6 167.4 L1770.5 140.1 L1773.4 149.8 L1778.3 149.8 L1780.7 148.1 L1784.3 167.4 L1789.6 171.0" fill="none" stroke="#f57c00" stroke-width="3" stroke-linejoin="round" stroke-linecap="round"/>
<line x1="1601.5" y1="27" x2="1601.5" y2="1159" stroke="#000" stroke-width="1.3"/>
<line x1="1771.5" y1="27" x2="1771.5" y2="1159" stroke="#f23645" stroke-width="1"/>
</svg>

<div class="abs ttl" style="left:563px;top:162px;color:#f57c00"><span style="letter-spacing:0.15px">M2 GLOBAL LIQUIDITY</span><br><span style="letter-spacing:1.15px">(70-day projection)</span></div>
<div class="abs ttl" style="left:566px;top:293px;color:#7b1fa2"><span style="letter-spacing:0.15px">M2 GLOBAL LIQUIDITY</span><br><span style="letter-spacing:1.15px">(84-day projection)</span></div>

<div class="abs" id="leg">Bitcoin / Dollar · 1D · INDEX&nbsp; O<span>104<i></i>947,38</span>&nbsp; H<span>105<i></i>271,78</span>&nbsp; B<span>104<i></i>529,17</span>&nbsp; C<span>104<i></i>977,11&nbsp; +32,21 (+0,03%)</span></div>

<!-- left axis -->
<div class="abs ax la" style="top:30px">0,00</div>
<div class="abs ax la" style="top:146px">0,00</div>
<div class="abs ax la" style="top:219px">0,00</div>
<div class="abs ax la" style="top:309px">0,00</div>
<div class="abs ax la" style="top:425px">0,00</div>
<div class="abs ax la" style="top:549px">0,00</div>
<div class="abs ax la" style="top:625px">−0,00</div>
<div class="abs ax la" style="top:693px">−0,00</div>
<div class="abs ax la" style="top:801px">−0,00</div>
<div class="abs ax la" style="top:886px">−0,00</div>
<div class="abs ax la" style="top:956px">−0,00</div>
<div class="abs ax la" style="top:1030px">−0,00</div>
<div class="abs ax la" style="top:1092px">−0,00</div>

<!-- right axis A -->
<div class="abs ax" style="left:1947.5px;top:101px">115<i></i>000,00</div>
<div class="abs ax" style="left:1947.5px;top:249px">97<i></i>000,00</div>
<div class="abs ax" style="left:1947.5px;top:406px">81<i></i>000,00</div>
<div class="abs ax" style="left:1947.5px;top:490px">73<i></i>500,00</div>
<div class="abs ax" style="left:1947.5px;top:551px">68<i></i>500,00</div>
<div class="abs ax" style="left:1947.5px;top:631px">62<i></i>500,00</div>
<div class="abs ax" style="left:1947.5px;top:718px">56<i></i>500,00</div>
<div class="abs ax" style="left:1947.5px;top:782px">52<i></i>500,00</div>
<div class="abs ax" style="left:1947.5px;top:851px">48<i></i>500,00</div>
<div class="abs ax" style="left:1947.5px;top:926px">44<i></i>500,00</div>
<div class="abs ax" style="left:1947.5px;top:986px">41<i></i>500,00</div>
<div class="abs ax" style="left:1947.5px;top:1047px">38<i></i>700,00</div>
<div class="abs ax" style="left:1947.5px;top:1111px">35<i></i>950,00</div>
<!-- right axis B -->
<div class="abs ax" style="left:2091px;top:83px">11,40</div>
<div class="abs ax" style="left:2091px;top:150px">11,30</div>
<div class="abs ax" style="left:2091px;top:217px">11,20</div>
<div class="abs ax" style="left:2091px;top:286px">11,10</div>
<div class="abs ax" style="left:2091px;top:355px">11,00</div>
<div class="abs ax" style="left:2091px;top:425px">10,90</div>
<div class="abs ax" style="left:2091px;top:495px">10,80</div>
<div class="abs ax" style="left:2091px;top:566px">10,70</div>
<div class="abs ax" style="left:2091px;top:638px">10,60</div>
<div class="abs ax" style="left:2091px;top:710px">10,50</div>
<div class="abs ax" style="left:2091px;top:783px">10,40</div>
<div class="abs ax" style="left:2091px;top:857px">10,30</div>
<div class="abs ax" style="left:2091px;top:931px">10,20</div>
<div class="abs ax" style="left:2091px;top:991px">10,12</div>
<div class="abs ax" style="left:2091px;top:1052px">10,04</div>
<div class="abs ax" style="left:2091px;top:1113px">9,96</div>
<!-- right axis C -->
<div class="abs ax" style="left:2180px;top:84px">99,00</div>
<div class="abs ax" style="left:2180px;top:165px">98,00</div>
<div class="abs ax" style="left:2180px;top:247px">97,00</div>
<div class="abs ax" style="left:2180px;top:330px">96,00</div>
<div class="abs ax" style="left:2180px;top:414px">95,00</div>
<div class="abs ax" style="left:2180px;top:498px">94,00</div>
<div class="abs ax" style="left:2180px;top:585px">93,00</div>
<div class="abs ax" style="left:2180px;top:671px">92,00</div>
<div class="abs ax" style="left:2180px;top:759px">91,00</div>
<div class="abs ax" style="left:2180px;top:847px">90,00</div>
<div class="abs ax" style="left:2180px;top:919px">89,20</div>
<div class="abs ax" style="left:2180px;top:991px">88,40</div>
<div class="abs ax" style="left:2180px;top:1055px">87,70</div>
<div class="abs ax" style="left:2180px;top:1119px">87,00</div>

<!-- USD boxes -->
<div class="abs usd" style="left:1934px;width:135px">USD</div>
<div class="abs usd" style="left:2078px;width:81px">USD</div>
<div class="abs usd" style="left:2168px;width:81px">USD</div>

<!-- price labels -->
<div class="abs lab" style="left:1831px;top:179px;width:100px;background:#26a69a;border-radius:2px 0 0 2px;text-indent:8px;letter-spacing:-1.8px">BTCUSD</div>
<div class="abs lab" style="left:1932px;top:179px;width:138px;background:#26a69a;border-radius:0 2px 2px 0;text-indent:16px">104<i></i>977,11</div>
<div class="abs lab" style="left:1932px;top:320px;width:125px;background:#1b5e20;border-radius:2px;text-indent:15px">89<i></i>224,11</div>

<!-- time axis -->
<div class="abs tm" style="left:157px"><b>2024</b></div>
<div class="abs tm" style="left:319px">Mars</div>
<div class="abs tm" style="left:483px">Mai</div>
<div class="abs tm" style="left:648px">Juill</div>
<div class="abs tm" style="left:815px">Sept</div>
<div class="abs tm" style="left:980px">Nov</div>
<div class="abs tm" style="left:1145px"><b>2025</b></div>
<div class="abs tm" style="left:1304px">Mars</div>
<div class="abs tm" style="left:1468px">Mai</div>
<div class="abs lab" style="left:1501px;top:1158px;width:200px;height:41.5px;line-height:44px;background:#000;border-radius:2px;text-indent:18px;overflow:hidden;letter-spacing:0.65px">jeu. 19 Juin '25</div>
<div class="abs lab" style="left:1669px;top:1158px;width:205px;height:41.5px;line-height:44px;background:#f23645;border-radius:2px;text-align:center;letter-spacing:0.65px">jeu. 21 Août '25</div>

<div class="abs circ" style="left:46px">Z</div>
<div class="abs circ" style="left:1994px">A</div>
<div class="abs circ" style="left:2111px">B</div>
<div class="abs circ" style="left:2201px">C</div>

<!-- footer logo -->
<svg class="abs" style="left:10px;top:1220px" width="19.5" height="10" viewBox="0 0 36 20" preserveAspectRatio="none"><path fill="#e6e6e6" d="M14 20H7V7H0V0h14v20zM36 0l-8.5 20h-7.6L28.4 0H36z"/><circle cx="20" cy="4" r="4" fill="#e6e6e6"/></svg>
<div class="abs" id="foot">TradingView</div>
</body></html>
